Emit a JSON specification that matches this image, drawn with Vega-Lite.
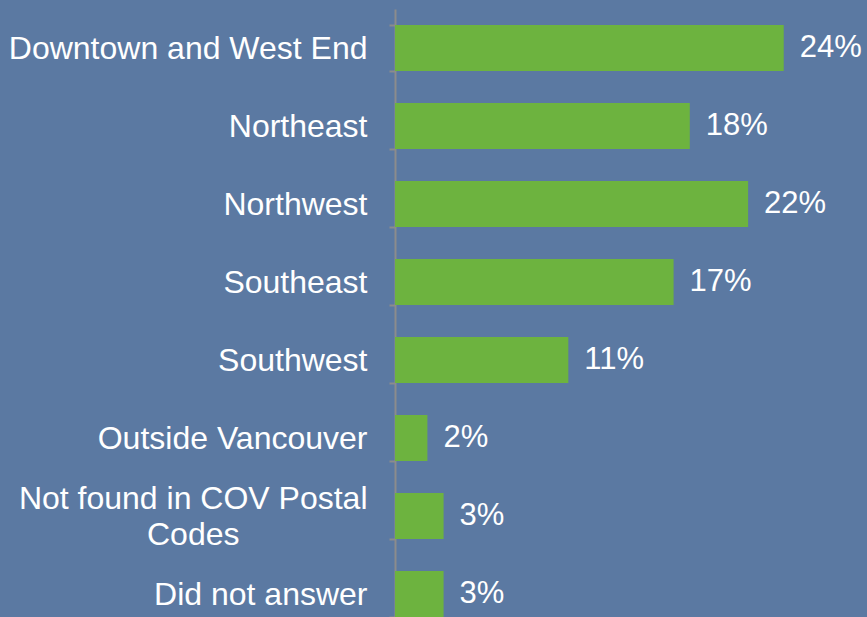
{
  "$schema": "https://vega.github.io/schema/vega-lite/v6.json",
  "autosize": "none",
  "padding": {"left": 395, "top": 9, "right": 0, "bottom": 0},
  "width": 472,
  "height": 624,
  "background": "#5B79A2",
  "config": {"view": {"stroke": null}, "font": "Liberation Sans"},
  "data": {"values": [
    {"area": "Downtown and West End", "pct": 24.0, "label": "24%"},
    {"area": "Northeast", "pct": 18.2, "label": "18%"},
    {"area": "Northwest", "pct": 21.8, "label": "22%"},
    {"area": "Southeast", "pct": 17.2, "label": "17%"},
    {"area": "Southwest", "pct": 10.7, "label": "11%"},
    {"area": "Outside Vancouver", "pct": 2.0, "label": "2%"},
    {"area": "Not found in COV Postal Codes", "pct": 3.0, "label": "3%"},
    {"area": "Did not answer", "pct": 3.0, "label": "3%"}
  ]},
  "encoding": {
    "y": {
      "field": "area", "type": "nominal", "sort": null,
      "scale": {"paddingInner": 0.41, "paddingOuter": 0.205},
      "axis": {
        "title": null,
        "domainColor": "#8C8C8C", "domainWidth": 2,
        "tickColor": "#8C8C8C", "tickWidth": 2, "tickSize": 6, "tickBand": "extent",
        "labelColor": "#FFFFFF", "labelFontSize": 32, "labelFont": "Liberation Sans",
        "labelPadding": 22, "labelLimit": 400, "labelLineHeight": 36,
        "labelOffset": {"condition": {"test": "datum.value == 'Not found in COV Postal Codes'", "value": -18}, "value": 0},
        "labelExpr": "datum.label == 'Not found in COV Postal Codes' ? ['Not found in COV Postal', 'Codes\u2003\u2003\u2003\u2003\u200b'] : datum.label"
      }
    },
    "x": {
      "field": "pct", "type": "quantitative",
      "scale": {"domain": [0, 29.14], "nice": false},
      "axis": null
    }
  },
  "layer": [
    {"mark": {"type": "bar", "color": "#6DB33F"}},
    {
      "mark": {"type": "text", "align": "left", "dx": 16, "color": "#FFFFFF", "fontSize": 31, "font": "Liberation Sans", "baseline": "middle"},
      "encoding": {"text": {"field": "label"}}
    }
  ]
}
